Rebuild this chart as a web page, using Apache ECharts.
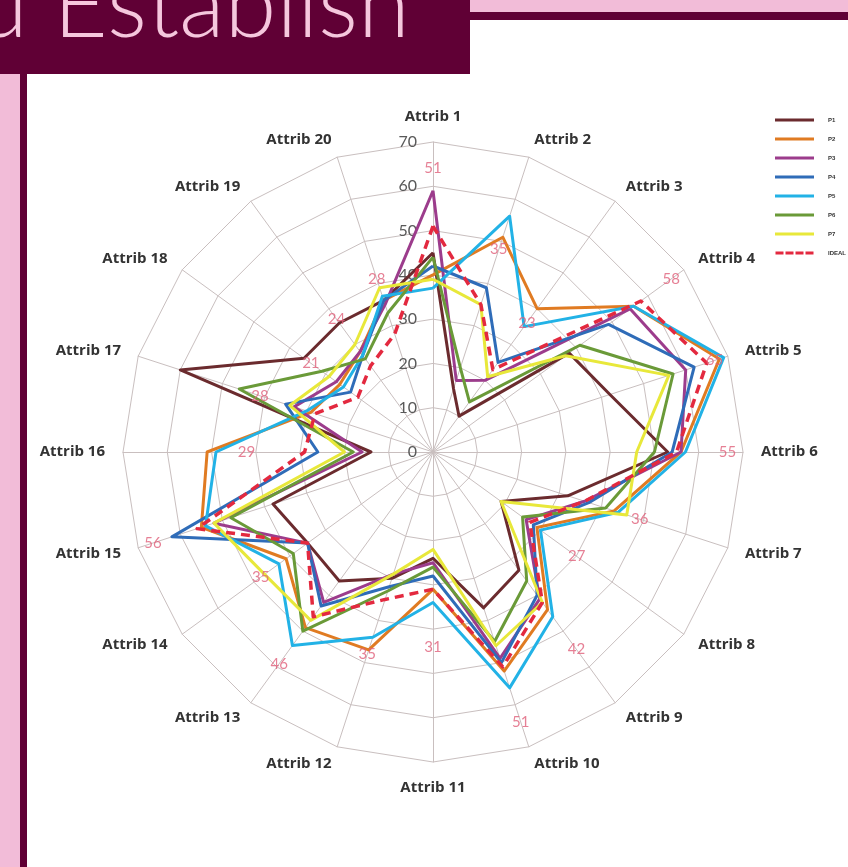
<!DOCTYPE html>
<html><head><meta charset="utf-8">
<script src="https://cdn.jsdelivr.net/npm/echarts@6/dist/echarts.min.js"></script>
<style>html,body{margin:0;padding:0;background:#fff}#c{width:848px;height:867px}</style>
</head><body><div id="c"></div>
<script>
const attribs = ['Attrib 1','Attrib 2','Attrib 3','Attrib 4','Attrib 5','Attrib 6','Attrib 7','Attrib 8','Attrib 9','Attrib 10',
  'Attrib 11','Attrib 12','Attrib 13','Attrib 14','Attrib 15','Attrib 16','Attrib 17','Attrib 18','Attrib 19','Attrib 20'];
const seriesNames = ['P1','P2','P3','P4','P5','P6','P7','IDEAL'];
const p1    = [45,15,10,38,42,53,32,19,33,37,24,30,36,35,38,14,60,36,36,36];
const p2    = [40,51,40,56,68,56,43,29,44,52,31,47,49,41,55,51,29,26,28,36];
const p3    = [59,17,20,55,60,56,36,26,41,49,25,29,42,35,52,16,33,27,28,35];
const p4    = [42,39,25,49,62,54,37,28,40,50,28,32,43,35,62,26,35,23,27,36];
const p5    = [37,56,35,56,69,57,44,30,46,56,34,44,54,43,54,49,30,25,27,37];
const p6    = [44,20,14,41,57,50,41,25,36,45,26,33,50,39,48,18,46,31,26,33];
const p7    = [39,35,21,37,56,46,46,19,42,46,22,29,47,47,52,20,34,29,30,39];
const ideal = [51,35,23,58,65,55,36,27,42,51,31,35,46,35,56,29,28,21,24,28];
const radiusTicks = [0,10,20,30,40,50,60,70];
const titleText = 'd Establish';

const allValues = [p1,p2,p3,p4,p5,p6,p7,ideal];
const colors = ['#6b2b2e','#e07b22','#9c3c8c','#2f6cb8','#22b2e6','#6a9a38','#e8e83a','#e3293f'];

// ECharts radar runs counter-clockwise: reorder so Attrib 2 sits to the right of Attrib 1
const ccw = arr => [arr[0]].concat(arr.slice(1).reverse());

const CX = 433, CY = 452, R = 310;
const maxV = radiusTicks[radiusTicks.length-1];

const chart = echarts.init(document.getElementById('c'), null, {renderer:'canvas'});

const radarSeries = seriesNames.map((n, k) => ({
  type: 'radar',
  name: n,
  symbol: 'none',
  z: k === 7 ? 5 : 3,
  itemStyle: {color: colors[k]},
  lineStyle: k === 7 ? {color: colors[k], width: 3.5, type: [9,6]} : {color: colors[k], width: 3},
  data: [{value: ccw(allValues[k]), name: n}]
}));

const labelSeries = {
  type: 'scatter',
  coordinateSystem: 'polar',
  symbolSize: 0,
  silent: true,
  z: 6,
  data: ideal.map((v, i) => {
    const th = i * 18 * Math.PI / 180;
    const d = Math.max(8, Math.min(58, (66.5 - v) * R / maxV));
    return {value: [v, i], label: {offset: [Math.sin(th) * d, -Math.cos(th) * d]}};
  }),
  label: {show: true, position: 'inside', formatter: p => p.value[0], color: '#e0607a', fontSize: 15, fontFamily: 'Lato'}
};

chart.setOption({
  backgroundColor: '#ffffff',
  animation: false,
  graphic: [
    {type:'rect', shape:{x:470,y:0,width:378,height:12}, style:{fill:'#f2bcd8'}},
    {type:'rect', shape:{x:470,y:12,width:378,height:8}, style:{fill:'#600035'}},
    {type:'rect', shape:{x:0,y:0,width:470,height:74}, style:{fill:'#600035'}},
    {type:'rect', shape:{x:0,y:74,width:20,height:793}, style:{fill:'#f2bcd8'}},
    {type:'rect', shape:{x:20,y:74,width:7,height:793}, style:{fill:'#600035'}},
    {type:'text', left: -24, top: -40, style:{text: titleText, fill:'#f5c7dd', font:'300 94px Lato'}}
  ],
  legend: {
    orient: 'vertical', left: 770, top: 111,
    itemWidth: 39, itemHeight: 3, itemGap: 11,
    textStyle: {fontSize: 6, fontWeight: 'bold', color: '#333', lineHeight: 8, padding: [0,0,0,9]},
    data: seriesNames.map((n, k) => ({name: n, icon: k === 7 ? 'path://M0,0h8v3h-8zM10,0h8v3h-8zM20,0h8v3h-8zM30,0h8v3h-8z' : 'rect'}))
  },
  radar: {
    center: [CX, CY], radius: R, startAngle: 90, shape: 'polygon', splitNumber: 7,
    indicator: ccw(attribs).map(a => ({name: a, min: 0, max: maxV})),
    axisName: {color: '#333', fontFamily: 'Open Sans', fontWeight: 'bold', fontSize: 15},
    axisNameGap: 18,
    splitLine: {lineStyle: {color: '#c9bfbf', width: 1}},
    splitArea: {show: false},
    axisLine: {lineStyle: {color: '#c9bfbf', width: 1}},
    axisTick: {show: false},
    axisLabel: {show: false}
  },
  polar: {center: [CX, CY], radius: R},
  angleAxis: {type: 'value', min: 0, max: 20, startAngle: 90, clockwise: true, show: false},
  radiusAxis: {
    type: 'value', min: 0, max: maxV, interval: 10,
    axisLine: {show: false}, axisTick: {show: false}, splitLine: {show: false},
    axisLabel: {color: '#595959', fontSize: 16, fontFamily: 'Lato', margin: 16}
  },
  series: radarSeries.concat([labelSeries])
});
</script></body></html>
